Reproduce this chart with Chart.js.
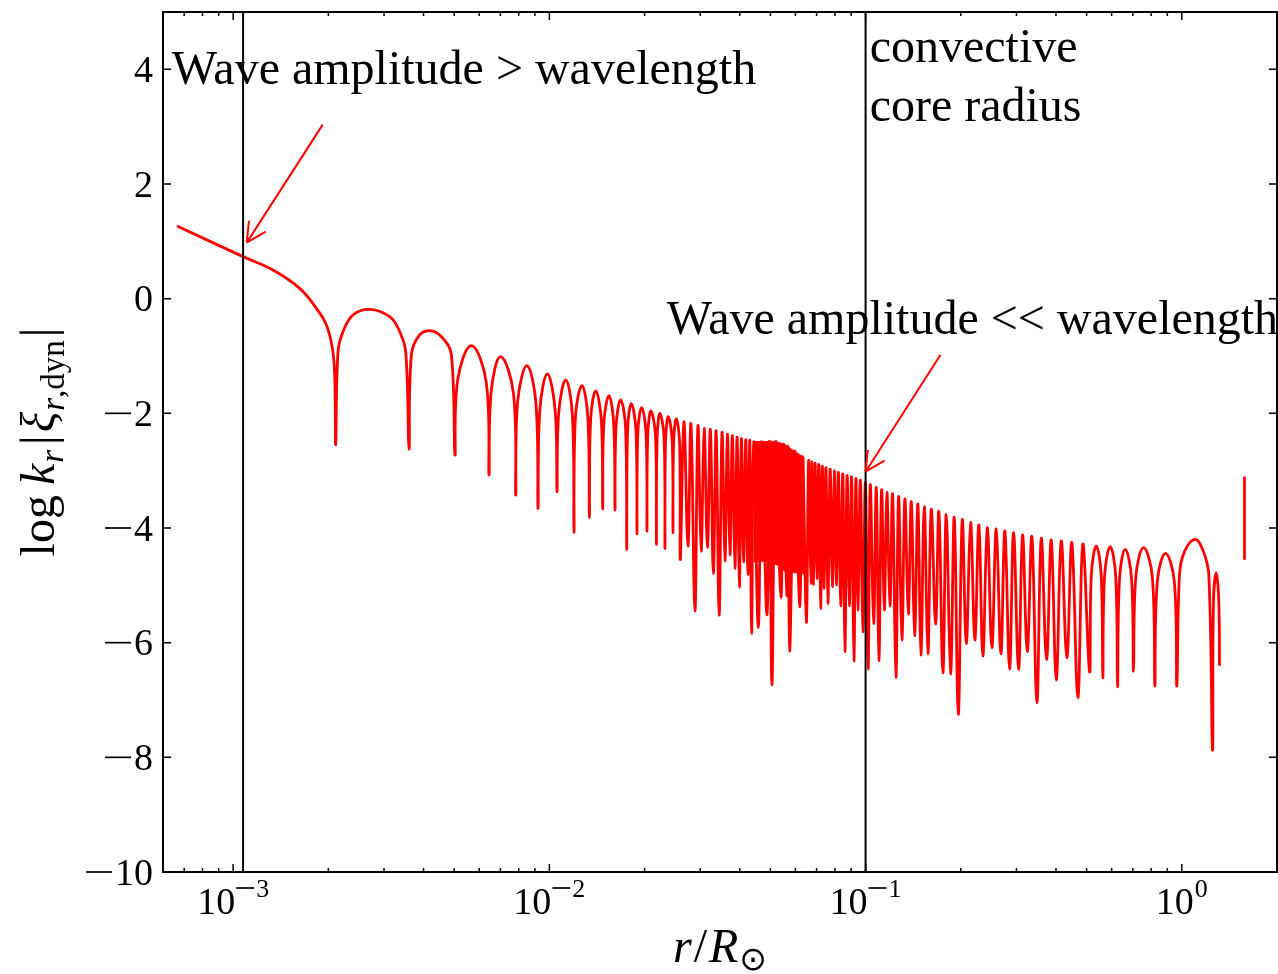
<!DOCTYPE html>
<html>
<head>
<meta charset="utf-8">
<script src="https://cdn.jsdelivr.net/npm/chart.js@4.4.0/dist/chart.umd.min.js"></script>
<style>
  html, body { margin: 0; padding: 0; background: #fff; }
  #wrap { width: 1278px; height: 974px; position: relative; }
</style>
</head>
<body>
<div id="wrap"><canvas id="c"></canvas></div>
<script>
// log10(r / Rsun) and log k_r|xi_r,dyn|, point by point
const logR = [
  -3.1774, -2.9687, -2.8739, -2.7895, -2.7367, -2.7051, -2.6861, -2.6789, -2.6757,
  -2.6684, -2.6526, -2.6210, -2.5682, -2.5049, -2.4733, -2.4543, -2.4439,
  -2.4363, -2.4101, -2.3731, -2.3364, -2.3099, -2.2985,
  -2.2899, -2.2466, -2.1999, -2.1910, -2.1840, -2.1540, -2.1135, -2.1066,
  -2.1003, -2.0709, -2.0424, -2.0361, -2.0300, -2.0063, -1.9817, -1.9760,
  -1.9706, -1.9485, -1.9273, -1.9223, -1.9175, -1.8970, -1.8783, -1.8736,
  -1.8695, -1.8536, -1.8356, -1.8315, -1.8277, -1.8116, -1.7964, -1.7926,
  -1.7891, -1.7746, -1.7591, -1.7556, -1.7525, -1.7408, -1.7262, -1.7231,
  -1.7202, -1.7082, -1.6943, -1.6915, -1.6889, -1.6788, -1.6643, -1.6617,
  -1.6592, -1.6504, -1.6371, -1.6346, -1.6324, -1.6238, -1.6115, -1.6093,
  -1.6071, -1.5985, -1.5881, -1.5859, -1.5745, -1.5618,
  -1.5523, -1.5397, -1.5302, -1.5201, -1.5106, -1.5002, -1.4910, -1.4815,
  -1.4727, -1.4632, -1.4540, -1.4449, -1.4370, -1.4291, -1.4212, -1.4133,
  -1.4063, -1.3993, -1.3927, -1.3857, -1.3788, -1.3721, -1.3661, -1.3605,
  -1.3541, -1.3393, -1.3288, -1.3121, -1.3035, -1.2963, -1.2845, -1.2678,
  -1.2593, -1.2498, -1.2450, -1.2403, -1.2245, -1.2087, -1.1992, -1.1875,
  -1.1802, -1.1730, -1.1692, -1.1654, -1.1597, -1.1540, -1.1480, -1.1423,
  -1.1369, -1.1319, -1.1255, -1.1192, -1.1122, -1.1053, -1.0990, -1.0927,
  -1.0860, -1.0791, -1.0721, -1.0655, -1.0585, -1.0516, -1.0443, -1.0370,
  -1.0307, -1.0244, -1.0165, -1.0086, -1.0006, -0.9921, -0.9852, -0.9747,
  -0.9662, -0.9580, -0.9494, -0.9409, -0.9327, -0.9232, -0.9147, -0.9042,
  -0.8957, -0.8852, -0.8758, -0.8650, -0.8555, -0.8451, -0.8347, -0.8252,
  -0.8144, -0.8030, -0.7923, -0.7787, -0.7683, -0.7556, -0.7449, -0.7313,
  -0.7196, -0.7069, -0.6943, -0.6816, -0.6680, -0.6545, -0.6418, -0.6292,
  -0.6152, -0.6007, -0.5868, -0.5722, -0.5596, -0.5447, -0.5321, -0.5163,
  -0.5036, -0.4888, -0.4742, -0.4584, -0.4445, -0.4278, -0.4129, -0.3971,
  -0.3813, -0.3636, -0.3478, -0.3288, -0.3130, -0.2918,
  -0.2861, -0.2706, -0.2551, -0.2498, -0.2444, -0.2264, -0.2090, -0.2033,
  -0.1970, -0.1789, -0.1590, -0.1527, -0.1454, -0.1211, -0.0933, -0.0854,
  -0.0775, -0.0515, -0.0237, -0.0158, -0.0073, 0.0085, 0.0424, 0.0686,
  0.0854, 0.0971, 0.1002, 0.1088, 0.1170, 0.1192
];
const logKXi = [
  1.268, 0.733, 0.501, 0.180, -0.169, -0.459, -0.867, -1.326, -2.541,
  -0.924, -0.576, -0.284, -0.187, -0.314, -0.576, -0.924, -2.622,
  -0.982, -0.633, -0.563, -0.692, -0.982, -2.726,
  -1.413, -0.820, -1.448, -3.075, -1.622, -1.012, -1.657, -3.424,
  -1.797, -1.169, -1.832, -3.658, -1.936, -1.313, -1.954, -3.366,
  -2.006, -1.418, -2.023, -4.076, -2.058, -1.518, -2.076, -3.815,
  -2.111, -1.610, -2.128, -3.668, -2.180, -1.692, -2.198, -3.686,
  -2.233, -1.767, -2.250, -4.373, -2.285, -1.832, -2.302, -4.099,
  -2.337, -1.901, -2.355, -4.052, -2.390, -1.959, -2.407, -4.286,
  -2.425, -2.001, -2.442, -4.356, -2.477, -2.058, -2.494, -4.082,
  -2.512, -2.098, -2.529, -4.547, -2.146, -4.314,
  -2.186, -5.447, -2.220, -4.401, -2.262, -4.338, -2.280, -4.792,
  -2.308, -5.521, -2.337, -4.575, -2.364, -4.471, -2.390, -4.704,
  -2.416, -5.029, -2.442, -4.588, -2.459, -4.809, -2.477, -5.838,
  -2.494, -5.739, -2.494, -5.517, -2.494, -6.738, -2.503, -5.210,
  -2.538, -5.181, -2.582, -6.145, -2.660, -5.372, -2.756, -5.646,
  -2.826, -4.966, -2.843, -4.984, -2.869, -4.879, -2.896, -5.402,
  -2.922, -5.053, -2.948, -5.315, -2.974, -5.024, -3.000, -4.994,
  -3.030, -5.355, -3.061, -6.157, -3.087, -5.355, -3.114, -6.320,
  -3.140, -5.430, -3.166, -5.808, -3.210, -6.457, -3.250, -5.664,
  -3.297, -6.314, -3.337, -5.430, -3.379, -5.360, -3.414, -6.606,
  -3.454, -5.953, -3.494, -5.500, -3.541, -5.878, -3.581, -6.215,
  -3.628, -6.192, -3.675, -5.674, -3.715, -6.524, -3.762, -6.546,
  -3.815, -7.251, -3.860, -6.013, -3.902, -5.953, -3.947, -6.232,
  -3.994, -6.088, -4.017, -6.192, -4.052, -6.459, -4.076, -6.466,
  -4.122, -6.157, -4.151, -7.047, -4.181, -6.292, -4.209, -6.651,
  -4.226, -6.262, -4.256, -6.960, -4.279, -6.506,
  -4.814, -4.314, -4.814, -6.611, -4.849, -4.326, -4.849, -6.768,
  -4.884, -4.373, -4.884, -6.494, -4.849, -4.343, -4.849, -6.756,
  -4.936, -4.443, -4.936, -6.756, -4.814, -4.413, -4.199, -4.413,
  -4.814, -7.872, -5.285, -4.779, -5.285, -6.402
];

// the part around r ~ 0.05 where the oscillation is too dense to resolve (a solid band)
const bandLogR = [-1.3541, -1.3288, -1.3035, -1.2782, -1.2561, -1.2403, -1.2150, -1.1929];
const bandTop = [-2.494, -2.494, -2.494, -2.506, -2.547, -2.611, -2.704, -2.791];
const bandBottom = [-4.588, -4.570, -4.588, -4.640, -4.745, -4.763, -4.780, -4.797];

// short isolated piece near the surface
const spurLogR = [0.1982, 0.1982];
const spurY = [-3.12, -4.535];

// vertical markers: wave breaking radius and convective core radius
const markerR = [1.075e-3, 0.1];

const yTicks = [-10, -8, -6, -4, -2, 0, 2, 4];
const xMajor = [1e-3, 1e-2, 1e-1, 1];
const xExp = ['-3', '-2', '-1', '0'];

const notes = [
  { text: 'Wave amplitude > wavelength', r: 6.4e-4, y: 3.75 },
  { text: 'convective', r: 0.103, y: 4.12 },
  { text: 'core radius', r: 0.103, y: 3.10 },
  { text: 'Wave amplitude << wavelength', r: 0.0235, y: -0.61 }
];
const arrows = [
  { from: [1.92e-3, 3.035], to: [1.104e-3, 0.977] },
  { from: [0.1726, -0.977], to: [0.1, -3.018] }
];

const SERIF = '"Liberation Serif", "Times New Roman", serif';
const RED = '#ff0000';

const pts = (xs, ys) => xs.map((v, i) => ({ x: Math.pow(10, v), y: ys[i] }));

function drawPieces(ctx, pieces, cx, baseY) {
  let total = 0;
  pieces.forEach(p => { ctx.font = p.font; p.w = ctx.measureText(p.t).width + (p.pad || 0); total += p.w; });
  let xx = cx - total / 2;
  pieces.forEach(p => { ctx.font = p.font; ctx.fillText(p.t, xx, baseY + (p.dy || 0)); xx += p.w; });
}

const frame = {
  id: 'frame',
  afterDraw(chart) {
    const { ctx, chartArea: a, scales } = chart;
    const sx = scales.x, sy = scales.y;
    ctx.save();
    ctx.fillStyle = '#000';
    ctx.textBaseline = 'alphabetic';

    // annotations
    ctx.font = '48px ' + SERIF;
    ctx.textAlign = 'left';
    notes.forEach(n => ctx.fillText(n.text, sx.getPixelForValue(n.r), sy.getPixelForValue(n.y)));

    ctx.strokeStyle = RED;
    ctx.lineWidth = 2;
    arrows.forEach(ar => {
      const x0 = sx.getPixelForValue(ar.from[0]), y0 = sy.getPixelForValue(ar.from[1]);
      const x1 = sx.getPixelForValue(ar.to[0]), y1 = sy.getPixelForValue(ar.to[1]);
      const ang = Math.atan2(y0 - y1, x0 - x1);
      ctx.beginPath();
      ctx.moveTo(x0, y0); ctx.lineTo(x1, y1);
      [-0.47, 0.47].forEach(d => {
        ctx.moveTo(x1, y1);
        ctx.lineTo(x1 + 22 * Math.cos(ang + d), y1 + 22 * Math.sin(ang + d));
      });
      ctx.stroke();
    });

    // spines
    ctx.strokeStyle = '#000';
    ctx.lineWidth = 2;
    ctx.strokeRect(a.left, a.top, a.right - a.left, a.bottom - a.top);

    // inward ticks
    ctx.lineWidth = 1.5;
    ctx.beginPath();
    yTicks.forEach(t => {
      const py = sy.getPixelForValue(t);
      ctx.moveTo(a.left, py); ctx.lineTo(a.left + 8, py);
      ctx.moveTo(a.right, py); ctx.lineTo(a.right - 8, py);
    });
    const minor = [];
    for (let e = -4; e <= 0; e++) for (let m = 2; m <= 9; m++) minor.push(m * Math.pow(10, e));
    minor.filter(v => v > sx.min && v < sx.max).forEach(v => {
      const px = sx.getPixelForValue(v);
      ctx.moveTo(px, a.bottom); ctx.lineTo(px, a.bottom - 4);
      ctx.moveTo(px, a.top); ctx.lineTo(px, a.top + 4);
    });
    xMajor.forEach(v => {
      const px = sx.getPixelForValue(v);
      ctx.moveTo(px, a.bottom); ctx.lineTo(px, a.bottom - 8);
      ctx.moveTo(px, a.top); ctx.lineTo(px, a.top + 8);
    });
    ctx.stroke();

    // y tick labels
    ctx.font = '38px ' + SERIF;
    ctx.textAlign = 'right';
    ctx.lineWidth = 1.7;
    yTicks.forEach(t => {
      const py = sy.getPixelForValue(t);
      const s = String(Math.abs(t));
      const xr = a.left - 10;
      ctx.fillText(s, xr, py + 12.5);
      if (t < 0) {
        const w = ctx.measureText(s).width;
        ctx.beginPath();
        ctx.moveTo(xr - w - 3 - 26, py); ctx.lineTo(xr - w - 3, py);
        ctx.stroke();
      }
    });

    // x tick labels 10^n
    ctx.textAlign = 'left';
    xMajor.forEach((v, i) => {
      const px = sx.getPixelForValue(v);
      const neg = xExp[i].startsWith('-');
      const dig = xExp[i].replace('-', '');
      ctx.font = '38px ' + SERIF;
      const w10 = ctx.measureText('10').width;
      ctx.font = '26px ' + SERIF;
      const wd = ctx.measureText(dig).width;
      const total = w10 + 1 + (neg ? 20 : 0) + wd;
      let xx = px - total / 2;
      ctx.font = '38px ' + SERIF;
      ctx.fillText('10', xx, 914);
      xx += w10 + 1;
      if (neg) {
        ctx.beginPath();
        ctx.moveTo(xx, 888); ctx.lineTo(xx + 18, 888);
        ctx.stroke();
        xx += 20;
      }
      ctx.font = '26px ' + SERIF;
      ctx.fillText(dig, xx, 897);
    });

    // axis labels
    ctx.textAlign = 'left';
    const big = 48, sub = 33;
    drawPieces(ctx, [
      { t: 'r', font: `italic ${big}px ${SERIF}`, pad: 2 },
      { t: '/', font: `${big}px ${SERIF}`, pad: 2 },
      { t: 'R', font: `italic ${big}px ${SERIF}`, pad: 1 },
      { t: '\u2299', font: `${sub}px "DejaVu Sans"`, dy: 8 }
    ], (a.left + a.right) / 2, 962);

    ctx.save();
    ctx.translate(54, (a.top + a.bottom) / 2);
    ctx.rotate(-Math.PI / 2);
    drawPieces(ctx, [
      { t: 'log', font: `${big}px ${SERIF}`, pad: 10 },
      { t: 'k', font: `italic ${big}px ${SERIF}`, pad: 1 },
      { t: 'r', font: `italic ${sub}px ${SERIF}`, dy: 9, pad: 5 },
      { t: '|', font: `${big}px ${SERIF}`, pad: 3 },
      { t: '\u03BE', font: `italic ${big}px ${SERIF}`, pad: 1 },
      { t: 'r', font: `italic ${sub}px ${SERIF}`, dy: 10 },
      { t: ',dyn', font: `${sub}px ${SERIF}`, dy: 10, pad: 3 },
      { t: '|', font: `${big}px ${SERIF}` }
    ], 0, 0);
    ctx.restore();

    ctx.restore();
  }
};

new Chart(document.getElementById('c'), {
  type: 'line',
  data: {
    datasets: [
      { data: [{ x: markerR[0], y: -10 }, { x: markerR[0], y: 5 }], borderColor: '#000', borderWidth: 2, order: 0 },
      { data: [{ x: markerR[1], y: -10 }, { x: markerR[1], y: 5 }], borderColor: '#000', borderWidth: 2, order: 0 },
      { data: pts(logR, logKXi), borderColor: RED, borderWidth: 2.8, tension: 0.4, order: 1 },
      { data: pts(bandLogR, bandTop), borderColor: RED, borderWidth: 1.5, backgroundColor: RED, fill: '+1', order: 2 },
      { data: pts(bandLogR, bandBottom), borderColor: RED, borderWidth: 1.5, fill: false, order: 2 },
      { data: pts(spurLogR, spurY), borderColor: RED, borderWidth: 2.8, order: 1 }
    ]
  },
  options: {
    responsive: true,
    maintainAspectRatio: false,
    animation: false,
    events: [],
    layout: { padding: { top: 12, right: 1, left: 0, bottom: 0 } },
    elements: {
      point: { radius: 0 },
      line: { borderJoinStyle: 'round', borderCapStyle: 'butt', fill: false }
    },
    plugins: { legend: { display: false }, tooltip: { enabled: false } },
    scales: {
      x: {
        type: 'logarithmic', min: 6e-4, max: 2,
        ticks: { display: false }, grid: { display: false }, border: { display: false },
        afterFit(s) { s.height = 102; }
      },
      y: {
        type: 'linear', min: -10, max: 5,
        ticks: { display: false }, grid: { display: false }, border: { display: false },
        afterFit(s) { s.width = 163; }
      }
    }
  },
  plugins: [frame]
});
</script>
</body>
</html>
